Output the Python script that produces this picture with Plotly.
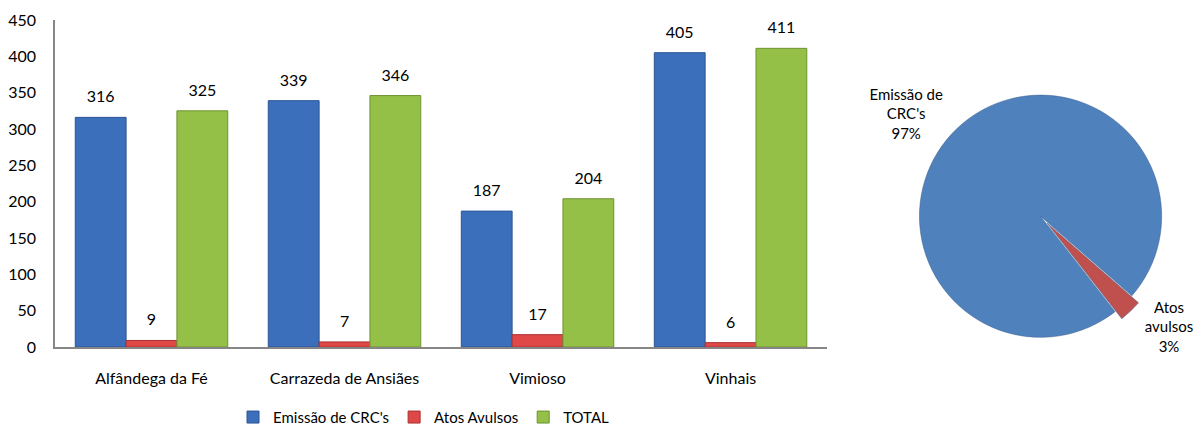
import plotly.graph_objects as go

# data
municipios = ['Alfândega da Fé', 'Carrazeda de Ansiães', 'Vimioso', 'Vinhais']
emissao_crc = [316, 339, 187, 405]
atos_avulsos = [9, 7, 17, 6]
total = [325, 346, 204, 411]

pie_labels = ["Emissão de<br>CRC's", 'Atos<br>avulsos']
pie_values = [sum(emissao_crc), sum(atos_avulsos)]

FONT = 'Lato'

fig = go.Figure()

series = [
    ("Emissão de CRC's", emissao_crc, '#3B6FBC', '#2B5592', 'a'),
    ('Atos Avulsos', atos_avulsos, '#E04848', '#A83232', 'b'),
    ('TOTAL', total, '#94C047', '#6E9232', 'c'),
]
for name, vals, color, edge, grp in series:
    fig.add_trace(go.Bar(
        x=municipios,
        y=vals,
        name=name,
        offsetgroup=grp,
        marker=dict(color=color, line=dict(color=edge, width=1)),
    ))

# value labels: invisible markers so the text sits a bit above each bar
for name, vals, color, edge, grp in series:
    fig.add_trace(go.Scatter(
        x=municipios,
        y=vals,
        offsetgroup=grp,
        mode='markers+text',
        marker=dict(size=16, opacity=0),
        text=[str(v) for v in vals],
        textposition='top center',
        textfont=dict(color='black', size=16, family=FONT),
        showlegend=False,
        hoverinfo='skip',
        cliponaxis=False,
    ))

fig.add_trace(go.Pie(
    labels=pie_labels,
    values=pie_values,
    sort=False,
    direction='clockwise',
    rotation=142,
    pull=[0, 0.08],
    marker=dict(colors=['#4F81BD', '#C0504D'], line=dict(color='#3A5F8C', width=0.5)),
    texttemplate='%{label}<br>%{percent:.0%}',
    textposition='outside',
    textfont=dict(color='black', size=15, family=FONT),
    showlegend=False,
    automargin=False,
    domain=dict(x=[0.745, 0.975], y=[0.0, 0.80]),
))

fig.update_layout(
    width=1201,
    height=425,
    margin={'l': 55, 'r': 0, 't': 20, 'b': 78, 'autoexpand': False},
    paper_bgcolor='white',
    plot_bgcolor='white',
    font=dict(family=FONT, size=16, color='black'),
    barmode='group',
    bargap=0.21,
    bargroupgap=0,
    scattermode='group',
    scattergap=0.21,
    showlegend=True,
    legend=dict(
        orientation='h',
        x=0.322, xanchor='center',
        y=-0.215, yanchor='middle',
        font=dict(size=15, family=FONT),
        itemwidth=30,
    ),
    xaxis=dict(
        domain=[0, 0.6737],
        showline=True,
        linecolor='#868686',
        linewidth=1.5,
        ticks='',
        ticklabelstandoff=16,
        showgrid=False,
        automargin=False,
    ),
    yaxis=dict(
        range=[0, 450],
        dtick=50,
        showline=True,
        linecolor='#868686',
        linewidth=1.5,
        ticks='',
        ticklabelstandoff=14,
        showgrid=False,
        zeroline=False,
        automargin=False,
    ),
)

# drop the default 8px body margin so the figure fills the window exactly
fig.write_html(
    'out.html',
    config={'displayModeBar': False},
    post_script="document.body.style.margin='0';",
)
